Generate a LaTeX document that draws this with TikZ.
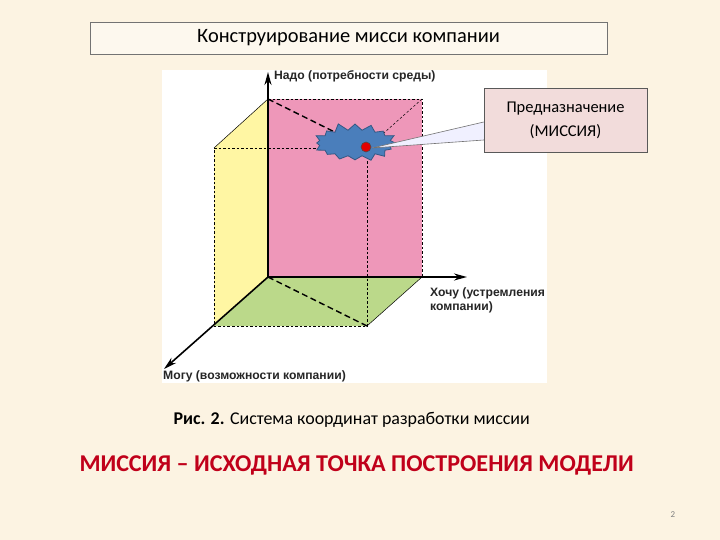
\documentclass[tikz,border=0pt]{standalone}
\usepackage{fontspec}
\setmainfont{Carlito}
\newfontfamily\arialfont{Liberation Sans}
\usetikzlibrary{arrows.meta,shapes.symbols}
\definecolor{pagebg}{HTML}{FCF3E2}
\definecolor{titlebg}{HTML}{FDF8EE}
\definecolor{facepink}{HTML}{EE97B9}
\definecolor{faceyellow}{HTML}{FFF6A3}
\definecolor{facegreen}{HTML}{BBD98A}
\definecolor{calloutbg}{HTML}{F2DCDB}
\definecolor{starblue}{HTML}{4A7EBB}
\definecolor{headred}{HTML}{C0001A}
\tikzset{
  axis/.style={line width=1.6bp,-{Stealth[length=13bp,width=7bp]}},
  thinedge/.style={dash pattern=on 2.5bp off 2bp, line width=0.5bp},
  bolddash/.style={dash pattern=on 6bp off 3.5bp, line width=1.4bp},
  axlabel/.style={font=\arialfont\bfseries\fontsize{12.2}{15}\selectfont, text=black!85, inner sep=0pt}
}
\begin{document}
\begin{tikzpicture}[x=1bp,y=-1bp]
\useasboundingbox (0,0) rectangle (720,540);
\fill[pagebg] (0,0) rectangle (720,540);
% title box
\node[draw=black!55, fill=titlebg, minimum width=517bp, minimum height=32bp, inner sep=0pt, font=\fontsize{20.5}{24}\selectfont] (title) at (348.5,38) {Конструирование мисси компании};
% figure area
\fill[white] (162,70) rectangle (547,383);
% corners of the box
\coordinate (O) at (268,277);
\coordinate (BT) at (268,99);
\coordinate (BTR) at (422,99);
\coordinate (BBR) at (422,277);
\coordinate (FTL) at (214,148);
\coordinate (FTR) at (367,148);
\coordinate (FBL) at (214,326);
\coordinate (FBR) at (367,326);
% faces
\fill[faceyellow] (FTL) -- (BT) -- (O) -- (FBL) -- cycle;
\fill[facepink] (BT) -- (BTR) -- (BBR) -- (O) -- cycle;
\fill[facegreen] (O) -- (BBR) -- (FBR) -- (FBL) -- cycle;
% edges
\draw[line width=0.5bp] (FTL) -- (BT);
\draw[line width=0.5bp] (BBR) -- (FBR);
\draw[thinedge] (BT) -- (BTR) -- (BBR);
\draw[thinedge] (BTR) -- (FTR);
\draw[thinedge] (FTL) -- (FTR) -- (FBR) -- (FBL) -- cycle;
\draw[bolddash] (BT) -- (FTR);
\draw[bolddash] (O) -- (FBR);
% axes
\draw[axis] (O) -- (268,72) coordinate (up);
\draw[axis] (O) -- (467,277) coordinate (right);
\draw[axis] (O) -- (164,369) coordinate (down);
\node[axlabel, anchor=west] (need) at (274,76) {Надо (потребности среды)};
\node[axlabel, anchor=north west, align=left] (want) at (430,287) {Хочу (устремления\\компании)};
\node[axlabel, anchor=west] (can) at (163,376) {Могу (возможности компании)};
% mission point
\node[starburst, starburst points=16, starburst point height=8bp, random starburst=11, minimum width=88bp, minimum height=42bp, fill=starblue, draw=starblue!70!black, line width=0.8bp] (star) at (355,143) {};
\node[circle, fill=red!90!black, draw=black!70, line width=0.6bp, minimum size=10bp, inner sep=0pt] (dot) at (366,147) {};
% callout
\node[draw=black!65, fill=calloutbg, minimum width=163bp, minimum height=64bp, align=center, font=\fontsize{16.5}{24}\selectfont] (mission) at (565.5,120) {Предназначение\\(МИССИЯ)};
\coordinate (tip) at (372,148);
\fill[blue!6] (tip) -- (mission.west |- 0,122) -- (mission.west |- 0,140) -- cycle;
\draw[black!55, line width=0.6bp] (mission.west |- 0,122) -- (tip) -- (mission.west |- 0,140);
% caption and headline
\node[anchor=west, font=\fontsize{18}{21}\selectfont] (caption) at (170,420) {\textbf{Рис. 2.} Система координат разработки миссии};
\node[anchor=west, font=\bfseries\fontsize{24.2}{28}\selectfont, text=headred] (headline) at (76,465) {МИССИЯ – ИСХОДНАЯ ТОЧКА ПОСТРОЕНИЯ МОДЕЛИ};
\node[font=\fontsize{9}{10}\selectfont, text=black!50] (pagenum) at (673,515) {2};
\end{tikzpicture}
\end{document}
